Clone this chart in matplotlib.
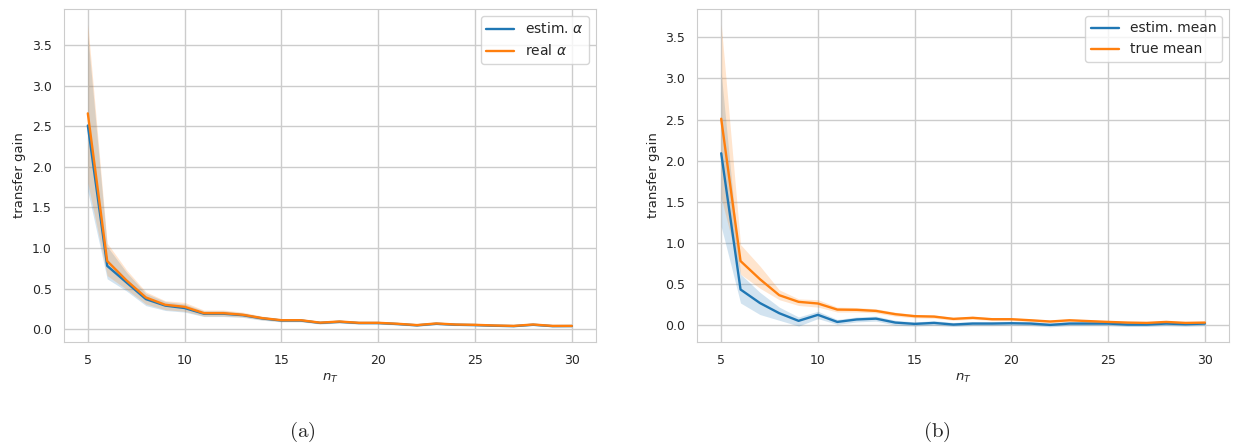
import numpy as np
import matplotlib
matplotlib.use('Agg')
import matplotlib.pyplot as plt
import seaborn as sns

sns.set_style('whitegrid')
plt.rcParams['font.family'] = ['DejaVu Sans']

# number of target samples
n_T = list(range(5, 31))

# panel (a): estimated vs. real alpha
estim_alpha = [2.51, 0.78, 0.575, 0.37, 0.29, 0.26, 0.19, 0.19, 0.172, 0.132, 0.106,
               0.106, 0.077, 0.09, 0.075, 0.075, 0.063, 0.047, 0.066, 0.054, 0.05,
               0.042, 0.037, 0.054, 0.037, 0.038]
estim_alpha_lo = [1.70, 0.62, 0.47, 0.29, 0.23, 0.21, 0.155, 0.155, 0.145, 0.11, 0.09,
                  0.09, 0.063, 0.075, 0.062, 0.062, 0.05, 0.035, 0.053, 0.043, 0.04,
                  0.032, 0.028, 0.043, 0.028, 0.029]
estim_alpha_hi = [3.62, 1.02, 0.70, 0.44, 0.34, 0.31, 0.225, 0.225, 0.2, 0.155, 0.125,
                  0.125, 0.092, 0.106, 0.09, 0.09, 0.077, 0.06, 0.08, 0.067, 0.062,
                  0.053, 0.048, 0.066, 0.048, 0.048]
real_alpha = [2.66, 0.84, 0.60, 0.39, 0.30, 0.275, 0.197, 0.197, 0.177, 0.136, 0.11,
              0.11, 0.08, 0.094, 0.078, 0.078, 0.066, 0.05, 0.07, 0.057, 0.053,
              0.045, 0.04, 0.057, 0.04, 0.04]
real_alpha_lo = [1.80, 0.66, 0.49, 0.31, 0.24, 0.22, 0.16, 0.16, 0.15, 0.115, 0.093,
                 0.093, 0.066, 0.079, 0.065, 0.065, 0.053, 0.038, 0.057, 0.046, 0.043,
                 0.035, 0.031, 0.046, 0.031, 0.031]
real_alpha_hi = [3.76, 1.06, 0.73, 0.46, 0.35, 0.33, 0.235, 0.235, 0.21, 0.16, 0.13,
                 0.13, 0.095, 0.11, 0.093, 0.093, 0.08, 0.063, 0.083, 0.07, 0.065,
                 0.056, 0.05, 0.069, 0.05, 0.05]

# panel (b): estimated vs. true mean
estim_mean = [2.09, 0.434, 0.27, 0.146, 0.053, 0.126, 0.04, 0.07, 0.08, 0.032, 0.016,
              0.028, 0.008, 0.02, 0.02, 0.024, 0.02, 0.004, 0.02, 0.02, 0.02,
              0.008, 0.008, 0.02, 0.012, 0.02]
estim_mean_lo = [1.20, 0.27, 0.13, 0.06, -0.01, 0.08, 0.01, 0.04, 0.05, 0.0, -0.01,
                 0.0, -0.015, -0.005, -0.005, 0.0, -0.005, -0.02, -0.005, -0.005, -0.005,
                 -0.015, -0.015, -0.005, -0.012, -0.005]
estim_mean_hi = [3.07, 0.62, 0.40, 0.22, 0.10, 0.17, 0.07, 0.10, 0.11, 0.06, 0.04,
                 0.055, 0.033, 0.045, 0.045, 0.048, 0.045, 0.028, 0.045, 0.045, 0.045,
                 0.032, 0.032, 0.045, 0.036, 0.045]
true_mean = [2.51, 0.78, 0.56, 0.365, 0.284, 0.264, 0.19, 0.187, 0.174, 0.134, 0.11,
             0.105, 0.077, 0.09, 0.073, 0.073, 0.06, 0.045, 0.06, 0.05, 0.04,
             0.032, 0.028, 0.04, 0.028, 0.032]
true_mean_lo = [1.55, 0.62, 0.45, 0.31, 0.24, 0.22, 0.16, 0.16, 0.15, 0.11, 0.09,
                0.085, 0.06, 0.072, 0.057, 0.057, 0.045, 0.031, 0.045, 0.036, 0.027,
                0.02, 0.017, 0.027, 0.017, 0.02]
true_mean_hi = [3.66, 0.98, 0.72, 0.43, 0.32, 0.31, 0.22, 0.215, 0.2, 0.158, 0.13,
                0.125, 0.095, 0.108, 0.09, 0.09, 0.076, 0.06, 0.076, 0.065, 0.054,
                0.045, 0.04, 0.054, 0.04, 0.045]

blue = '#1f77b4'
orange = '#ff7f0e'

fig = plt.figure(figsize=(12.33, 4.43), dpi=100)
ax_a = fig.add_axes([0.0516, 0.228, 0.4318, 0.7517])
ax_b = fig.add_axes([0.5653, 0.228, 0.4315, 0.7517])

panels = [
    (ax_a, estim_alpha, estim_alpha_lo, estim_alpha_hi, r'estim. $\alpha$',
     real_alpha, real_alpha_lo, real_alpha_hi, r'real $\alpha$'),
    (ax_b, estim_mean, estim_mean_lo, estim_mean_hi, 'estim. mean',
     true_mean, true_mean_lo, true_mean_hi, 'true mean'),
]

for ax, e, elo, ehi, elab, r, rlo, rhi, rlab in panels:
    ax.fill_between(n_T, elo, ehi, color=blue, alpha=0.2, linewidth=0)
    ax.plot(n_T, e, color=blue, lw=1.7, label=elab)
    ax.fill_between(n_T, rlo, rhi, color=orange, alpha=0.2, linewidth=0)
    ax.plot(n_T, r, color=orange, lw=1.7, label=rlab)
    ax.set_xticks([5, 10, 15, 20, 25, 30])
    ax.set_yticks(np.arange(0, 3.6, 0.5))
    ax.yaxis.set_major_formatter(matplotlib.ticker.FormatStrFormatter('%.1f'))
    ax.tick_params(labelsize=9, colors='.15', pad=5)
    ax.set_xlabel(r'$n_T$', fontsize=9.5, color='.15', labelpad=4)
    ax.set_ylabel('transfer gain', fontsize=9.5, color='.15', labelpad=4)
    ax.legend(loc='upper right', fontsize=10, handlelength=2.0)
    ax.grid(True, color='.8', lw=1)

fig.text(0.245, 0.025, r'$\mathrm{(a)}$', fontsize=15, ha='center', va='center',
         math_fontfamily='cm')
fig.text(0.760, 0.025, r'$\mathrm{(b)}$', fontsize=15, ha='center', va='center',
         math_fontfamily='cm')

fig.savefig('out.png', dpi=100)
